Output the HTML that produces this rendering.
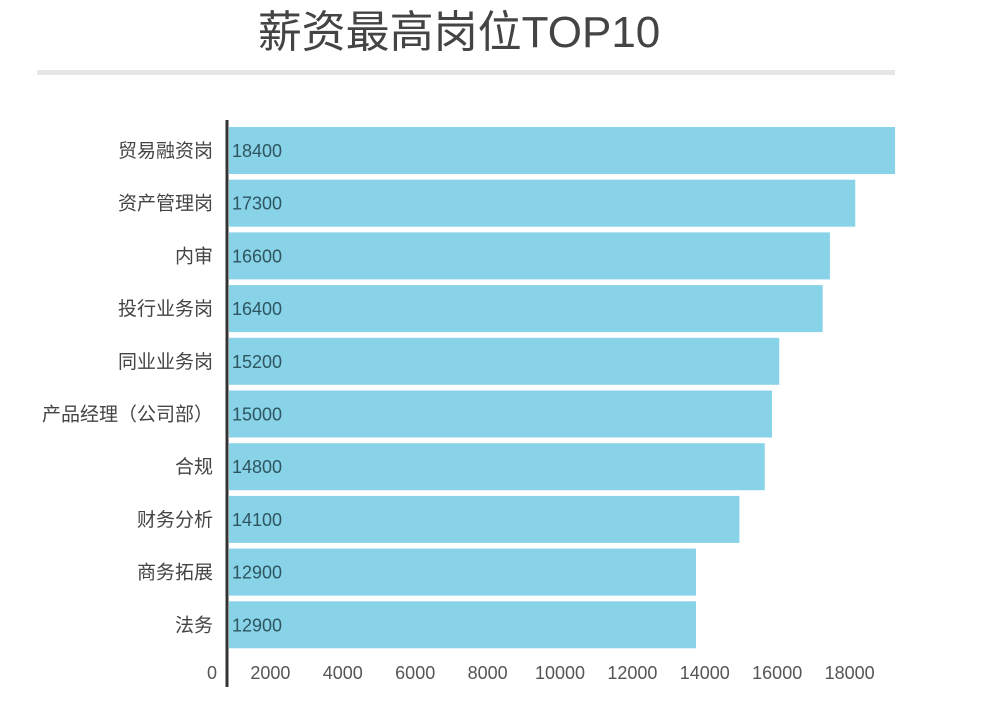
<!DOCTYPE html>
<html><head><meta charset="utf-8"><style>
body{margin:0;background:#fff;width:1000px;height:712px;overflow:hidden;font-family:"Liberation Sans","Noto Sans CJK SC",sans-serif}
</style></head><body>
<svg id="c" width="1000" height="712" style="position:absolute;left:0;top:0">
<text x="459" y="47" text-anchor="middle" font-size="44" fill="#444">薪资最高岗位TOP10</text>
<rect x="37" y="70" width="858" height="5" fill="#e6e6e6"/>
<g id="bars"></g>
<g id="ticks"></g>
<line x1="227" y1="120" x2="227" y2="687" stroke="#333" stroke-width="3"/>
</svg>
<script>
const categories=["贸易融资岗","资产管理岗","内审","投行业务岗","同业业务岗","产品经理（公司部）","合规","财务分析","商务拓展","法务"];
const values=[18400,17300,16600,16400,15200,15000,14800,14100,12900,12900];
const tickValues=[0,2000,4000,6000,8000,10000,12000,14000,16000,18000];
const tickLabels=["0","2000","4000","6000","8000","10000","12000","14000","16000","18000"];
const NS="http://www.w3.org/2000/svg";
const x0=229,k=0.0362;
function xs(v){return x0+v*k;}
function ys(i){return 127+i*52.7;}
function tx(v){return v===0?212:198+v*k;}
const bars=document.getElementById('bars'),ticks=document.getElementById('ticks');
function mk(tag,attrs,parent){const e=document.createElementNS(NS,tag);for(const a in attrs)e.setAttribute(a,attrs[a]);parent.appendChild(e);return e;}
categories.forEach((c,i)=>{
 const y=ys(i);
 const r=mk('rect',{x:x0,y:y,width:xs(values[i])-x0,height:47,fill:'#88d3e8'},bars);
 
 
 const v=mk('text',{x:x0+3,y:y+30,'font-size':18,fill:'#2e5560'},bars);
 v.textContent=values[i];
 
 
 const l=mk('text',{x:213,y:y+30,'font-size':19,fill:'#444','text-anchor':'end'},bars);
 l.textContent=c;
 
 
});
tickValues.forEach((t,i)=>{
 const e=mk('text',{x:tx(t),y:679,'font-size':18,fill:'#555','text-anchor':'middle'},ticks);
 e.textContent=tickLabels[i];
 
 
});
</script>
</body></html>
